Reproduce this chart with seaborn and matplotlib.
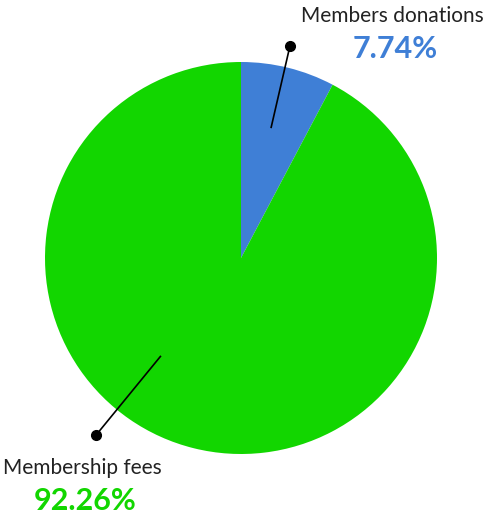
import numpy as np
import matplotlib
matplotlib.use("Agg")
import matplotlib.pyplot as plt
import seaborn as sns

categories = ["Members donations", "Membership fees"]
shares = [7.74, 92.26]
colors = ["#3F7FD6", "#12D600"]
value_labels = ["7.74%", "92.26%"]

sns.set_theme(style="white")
plt.rcParams["font.family"] = ["Lato", "DejaVu Sans"]

W, H = 485, 516
fig = plt.figure(figsize=(W / 100, H / 100), dpi=100)
ax = fig.add_axes([0, 0, 1, 1])

R = 196.0
cx, cy = 241.0, 258.0

wedges, _ = ax.pie(shares, colors=colors, startangle=90, counterclock=False,
                   radius=1.0, center=(0, 0), frame=True,
                   wedgeprops=dict(linewidth=0))
ax.set_xlim(-cx / R, (W - cx) / R)
ax.set_ylim(-(H - cy) / R, cy / R)
ax.set_aspect("auto")
ax.axis("off")

# leader lines: angle along which each callout runs, inner and outer radius
leader_angle = [77.0, 230.7]
leader_r = [(0.68, 1.11), (0.645, 1.17)]
# label anchor (axes fraction) for name and value text
name_pos = [(0.808, 0.969), (0.17, 0.093)]
value_pos = [(0.815, 0.906), (0.175, 0.029)]

for i, cat in enumerate(categories):
    a = np.deg2rad(leader_angle[i])
    r0, r1 = leader_r[i]
    x0, y0 = r0 * np.cos(a), r0 * np.sin(a)
    x1, y1 = r1 * np.cos(a), r1 * np.sin(a)
    ax.plot([x0, x1], [y0, y1], color="black", lw=1.2, solid_capstyle="butt")
    ax.plot([x1], [y1], "o", color="black", ms=7)
    ax.text(*name_pos[i], cat, transform=ax.transAxes, ha="center", va="center",
            fontsize=15, color="#222222")
    ax.text(*value_pos[i], value_labels[i], transform=ax.transAxes, ha="center",
            va="center", fontsize=22, fontweight="bold", color=colors[i])

fig.savefig("out.png", dpi=100, facecolor="white")
